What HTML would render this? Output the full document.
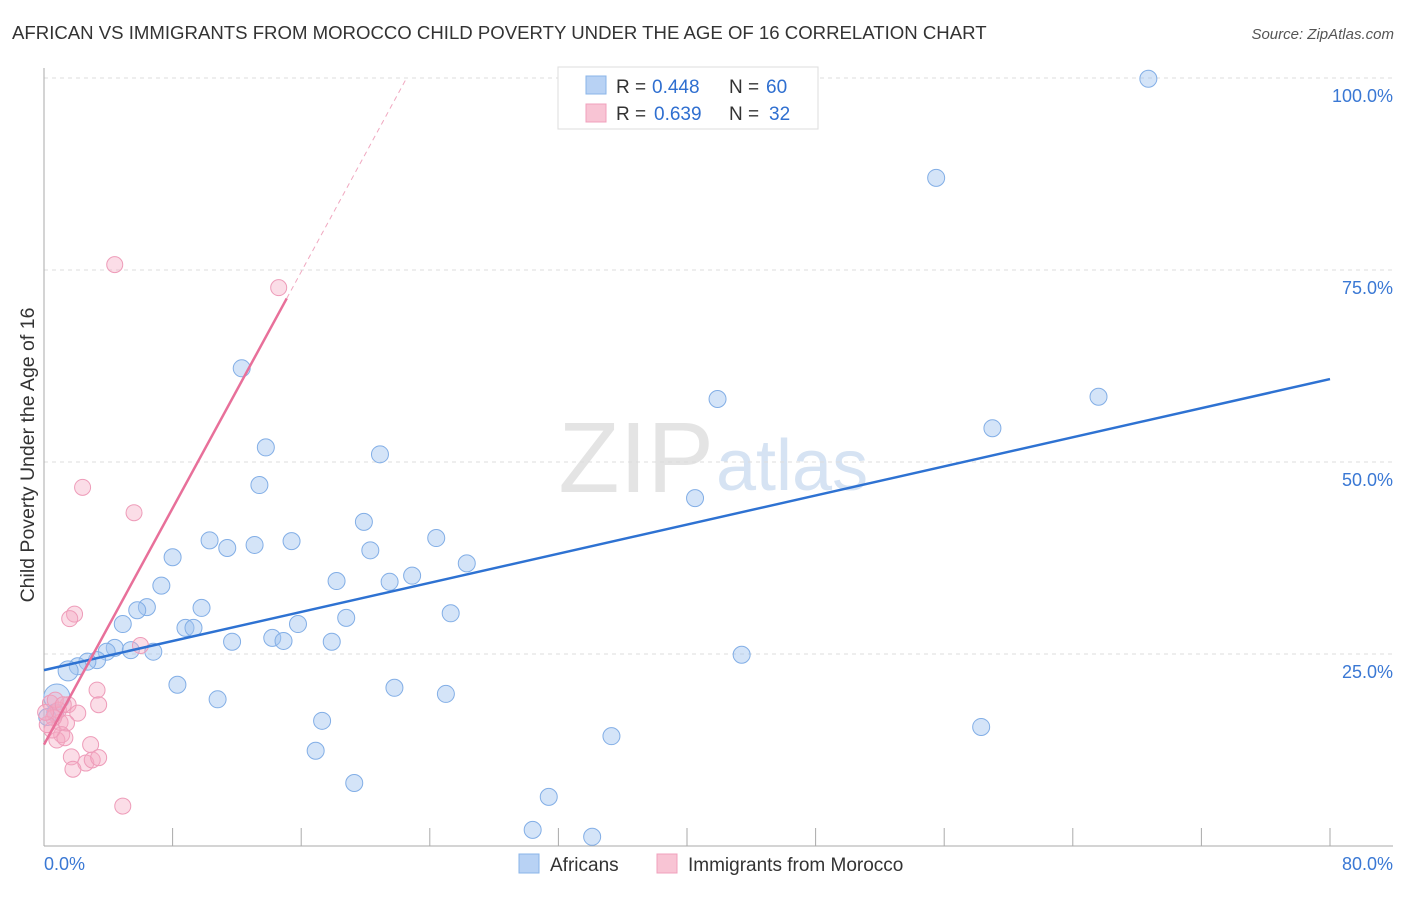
<!DOCTYPE html>
<html><head><meta charset="utf-8"><style>
body{margin:0;background:#fff;font-family:"Liberation Sans",sans-serif;}
svg text{font-family:"Liberation Sans",sans-serif;}
</style></head><body>
<svg id="chart" width="1406" height="892" xmlns="http://www.w3.org/2000/svg">
<text x="12" y="39" font-size="18.6" fill="#333">AFRICAN VS IMMIGRANTS FROM MOROCCO CHILD POVERTY UNDER THE AGE OF 16 CORRELATION CHART</text>
<text x="1394" y="39" font-size="15" fill="#555" text-anchor="end" font-style="italic">Source: ZipAtlas.com</text>
<text x="714" y="492" font-size="100" fill="#e4e4e4" text-anchor="end" font-family="Liberation Serif">ZIP</text>
<text x="716" y="490" font-size="72" fill="#d6e3f3">atlas</text>
<text transform="translate(34,455) rotate(-90)" font-size="19.5" fill="#333" text-anchor="middle">Child Poverty Under the Age of 16</text>
<g id="grid"></g><g id="axes"></g><g id="pts"></g><g id="lines"></g>
<g>
<rect x="558" y="67" width="260" height="62" fill="#fff" stroke="#ddd"/>
<rect x="586" y="76" width="20" height="18" fill="#b8d2f4" stroke="#8ab4e8"/>
<rect x="586" y="104" width="20" height="18" fill="#f8c4d4" stroke="#f0a0bc"/>
<text x="616" y="93" font-size="19" fill="#333">R =</text><text x="652" y="93" font-size="19" fill="#2f6fd0">0.448</text>
<text x="729" y="93" font-size="19" fill="#333">N =</text><text x="766" y="93" font-size="19" fill="#2f6fd0">60</text>
<text x="616" y="120" font-size="19" fill="#333">R =</text><text x="654" y="120" font-size="19" fill="#2f6fd0">0.639</text>
<text x="729" y="120" font-size="19" fill="#333">N =</text><text x="769" y="120" font-size="19" fill="#2f6fd0">32</text>
</g>
<g>
<rect x="519" y="854" width="20" height="19" fill="#b8d2f4" stroke="#8ab4e8"/>
<text x="550" y="871" font-size="19" fill="#333">Africans</text>
<rect x="657" y="854" width="20" height="19" fill="#f8c4d4" stroke="#f0a0bc"/>
<text x="688" y="871" font-size="19" fill="#333">Immigrants from Morocco</text>
</g>
</svg>
<script>
const xTicksMinor=[0,8,16,24,32,40,48,56,64,72,80];
const yTicks=[25,50,75,100];
const yTickLabels=["25.0%","50.0%","75.0%","100.0%"];
const blueX=[68.7,55.5,12.3,41.9,65.6,59.0,13.8,20.9,40.5,13.4,19.9,10.3,11.4,13.1,15.4,24.4,20.3,8.0,26.3,22.9,21.5,18.2,7.3,6.4,5.8,9.8,25.3,18.8,4.9,8.8,9.3,15.8,11.7,14.2,14.9,17.9,4.4,5.4,6.8,3.9,3.3,2.7,2.1,1.5,43.4,8.3,21.8,25.0,10.8,0.8,17.3,58.3,35.3,16.9,19.3,31.4,30.4,34.1,0.7,0.2];
const blueY=[99.9,87.0,62.2,58.2,58.5,54.4,51.9,51.0,45.3,47.0,42.2,39.8,38.8,39.2,39.7,40.1,38.5,37.6,36.8,35.2,34.4,34.5,33.9,31.1,30.7,31.0,30.3,29.7,28.9,28.4,28.4,28.9,26.6,27.1,26.7,26.6,25.8,25.5,25.3,25.3,24.2,24.0,23.4,22.8,24.9,21.0,20.6,19.8,19.1,19.4,16.3,15.5,14.3,12.4,8.2,6.4,2.1,1.2,17.4,16.8];
const pinkX=[4.4,14.6,2.4,5.6,1.9,1.6,6.0,3.3,3.4,1.5,2.1,0.4,0.7,1.0,1.4,0.9,0.6,1.1,0.8,1.3,2.9,1.7,2.6,3.0,3.4,1.8,4.9,0.5,0.2,0.7,1.2,0.1];
const pinkY=[75.7,72.7,46.7,43.4,30.2,29.6,26.1,20.3,18.4,18.4,17.3,18.6,17.2,16.1,16.0,17.7,16.7,14.5,13.8,14.1,13.2,11.6,10.8,11.2,11.5,10.0,5.2,15.1,15.8,19.0,18.4,17.4];
const blueTrend=[22.9,60.8];
const pinkTrend=[13.2,71.3,15.1];
const NS="http://www.w3.org/2000/svg";
const X=v=>44+v*16.075, Y=v=>846-v*7.68;
function mk(p,tag,a){const e=document.createElementNS(NS,tag);for(const k in a)e.setAttribute(k,a[k]);document.getElementById(p).appendChild(e);return e;}
yTicks.forEach((t,i)=>{
 const g=mk('grid','line',{x1:44,x2:1393,y1:Y(t),y2:Y(t),stroke:'#ddd','stroke-dasharray':'4 4'});
 
 
 const l=mk('grid','text',{x:1393,y:Y(t)+24,'font-size':18,fill:'#3a78d4','text-anchor':'end'});l.textContent=yTickLabels[i];
 
 
});
mk('axes','line',{x1:44,x2:44,y1:68,y2:846,stroke:'#aaa'});
mk('axes','line',{x1:44,x2:1393,y1:846,y2:846,stroke:'#aaa'});
xTicksMinor.forEach(t=>{if(t>0){const e=mk('axes','line',{x1:X(t),x2:X(t),y1:828,y2:846,stroke:'#aaa'});
 
 }});
let a=mk('axes','text',{x:44,y:870,'font-size':18,fill:'#3a78d4'});a.textContent="0.0%";


a=mk('axes','text',{x:1393,y:870,'font-size':18,fill:'#3a78d4','text-anchor':'end'});a.textContent="80.0%";


blueX.forEach((x,i)=>{const r=(i==49)?13:(i==43?10:8.5);
 const c=mk('pts','circle',{cx:X(x),cy:Y(blueY[i]),r:r,fill:'rgba(160,196,240,0.45)',stroke:'#82aee6','stroke-width':1});
 
 });
pinkX.forEach((x,i)=>{const c=mk('pts','circle',{cx:X(x),cy:Y(pinkY[i]),r:8,fill:'rgba(245,170,195,0.4)',stroke:'#ee9cb9','stroke-width':1});
 
 });
let ln=mk('lines','line',{x1:X(0),y1:Y(blueTrend[0]),x2:X(80),y2:Y(blueTrend[1]),stroke:'#2e72d2','stroke-width':2.5});


const slope=(pinkTrend[1]-pinkTrend[0])/pinkTrend[2];
ln=mk('lines','line',{x1:X(0),y1:Y(pinkTrend[0]),x2:X(pinkTrend[2]),y2:Y(pinkTrend[1]),stroke:'#e8709a','stroke-width':2.5});


const xe=(100-pinkTrend[0])/slope;
ln=mk('lines','line',{x1:X(pinkTrend[2]),y1:Y(pinkTrend[1]),x2:X(xe),y2:Y(100),stroke:'#f0a8c0','stroke-width':1,'stroke-dasharray':'5 4'});


</script>
</body></html>
